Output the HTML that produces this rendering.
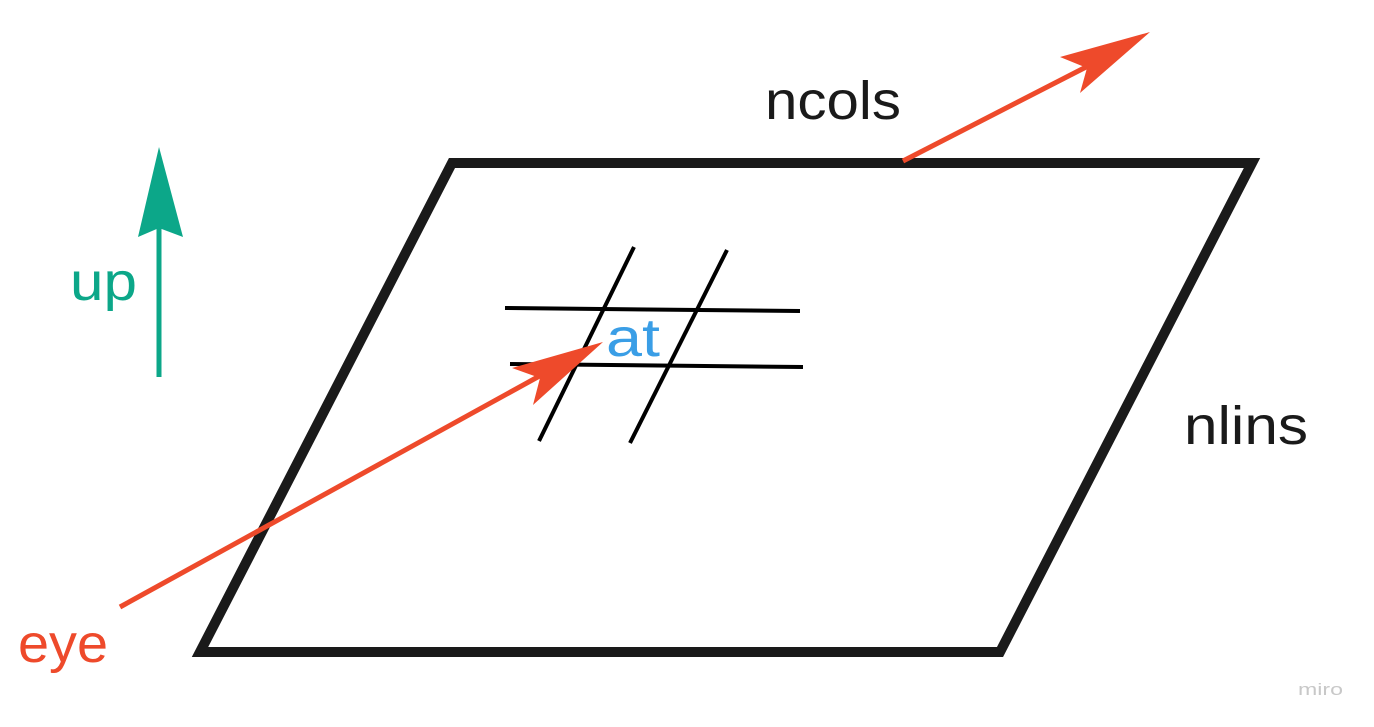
<!DOCTYPE html>
<html><head><meta charset="utf-8"><style>
html,body{margin:0;padding:0;background:#fff;}
svg{display:block;}
text{font-family:"Liberation Sans","DejaVu Sans",sans-serif;}
</style></head><body>
<svg width="1374" height="727" viewBox="0 0 1374 727">
  <polygon points="452,163 1252,163 1000,652 200,652" fill="none" stroke="#1a1a1a" stroke-width="10" stroke-linejoin="miter"/>
  <g stroke="#000" stroke-width="4">
    <line x1="505" y1="308" x2="800" y2="311"/>
    <line x1="510" y1="364" x2="803" y2="367"/>
    <line x1="634" y1="247" x2="539" y2="441"/>
    <line x1="727" y1="250" x2="630" y2="443"/>
  </g>
  <g fill="#ee4a2b">
    <line x1="120" y1="607" x2="545" y2="373" stroke="#ee4a2b" stroke-width="5"/>
    <polygon points="603,342 512,368 540,378 533,405"/>
  </g>
  <g fill="#ee4a2b">
    <line x1="903" y1="161" x2="1090" y2="65" stroke="#ee4a2b" stroke-width="5"/>
    <polygon points="1150,32 1060,57 1087,68 1080,93"/>
  </g>
  <g fill="#0ca789">
    <line x1="159" y1="377" x2="159" y2="225" stroke="#0ca789" stroke-width="5"/>
    <polygon points="159,147 138,237 159,228 183,237"/>
  </g>
  <text x="765" y="119" font-size="54" fill="#1a1a1a" textLength="136" lengthAdjust="spacingAndGlyphs">ncols</text>
  <text x="1184" y="444" font-size="54" fill="#1a1a1a" textLength="124" lengthAdjust="spacingAndGlyphs">nlins</text>
  <text x="70" y="300" font-size="54" fill="#0ca789" textLength="67" lengthAdjust="spacingAndGlyphs">up</text>
  <text x="606" y="356" font-size="54" fill="#3a9ee6" textLength="54" lengthAdjust="spacingAndGlyphs">at</text>
  <text x="18" y="662" font-size="54" fill="#ee4a2b" textLength="90" lengthAdjust="spacingAndGlyphs">eye</text>
  <text x="1298" y="695" font-size="17" fill="#c8c8c8" textLength="45" lengthAdjust="spacingAndGlyphs">miro</text>
</svg>
</body></html>
